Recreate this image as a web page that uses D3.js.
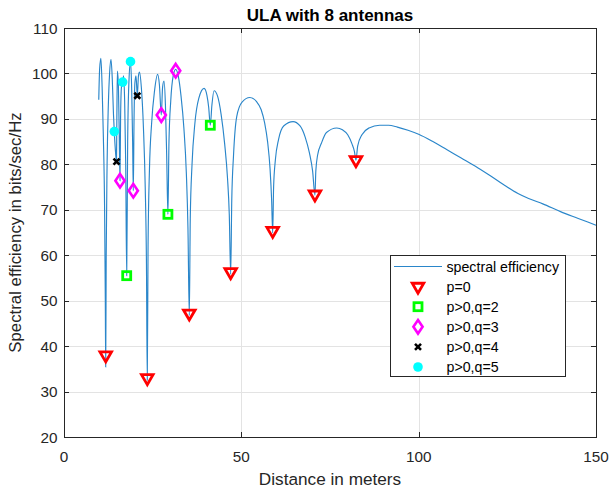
<!DOCTYPE html>
<html>
<head>
<meta charset="utf-8">
<script src="https://cdn.jsdelivr.net/npm/d3@7"></script>
<style>
  html, body { margin: 0; padding: 0; background: #fff; }
  svg { display: block; font-family: "Liberation Sans", Arial, sans-serif; }
</style>
</head>
<body>
<div id="chart"></div>
<script>
// --- Data (distance m, spectral efficiency bits/sec/Hz) ---
const curve = [
  [9.8, 94.2], [10.05, 101], [10.4, 103.3], [10.75, 97], [11.1, 86], [11.45, 70], [11.65, 50], [11.76, 35.4],
  [11.9, 60], [12.15, 80], [12.5, 93], [12.85, 100], [13.25, 103.1], [13.6, 99], [13.95, 91], [14.18, 87.2],
  [14.5, 83], [14.8, 80.6], [14.9, 90], [15.05, 100.5], [15.3, 98], [15.55, 88], [15.79, 76.4], [15.95, 90],
  [16.2, 97], [16.55, 98.1], [16.8, 99.5], [17.1, 94], [17.4, 80], [17.68, 55.5], [17.95, 85], [18.3, 98],
  [18.75, 102.6], [19.1, 96], [19.35, 85], [19.54, 74.2], [19.75, 90], [20.0, 98], [20.3, 99.5], [20.67, 95.1],
  [21.0, 99.5], [21.3, 100.3], [21.8, 97], [22.4, 88], [22.9, 75], [23.25, 58], [23.48, 32.5],
  [23.7, 62], [24.1, 79], [24.7, 89], [25.5, 96], [26.4, 99.8], [26.9, 97.5], [27.43, 90.85], [27.8, 97],
  [28.2, 98.3], [28.6, 93], [28.95, 82], [29.3, 69.0], [29.6, 85], [30.1, 94], [30.8, 99.5], [31.49, 100.9],
  [32.2, 99.5], [33.0, 95], [33.8, 88], [34.5, 78], [34.95, 66], [35.33, 46.7],
  [35.6, 68], [36.1, 80], [36.9, 89], [38.0, 94.5], [39.5, 96.7], [40.3, 95.2], [40.8, 92.5], [41.25, 88.6],
  [41.7, 93], [42.3, 96.2], [43.3, 95], [44.3, 91], [45.3, 84.5], [46.1, 77], [46.6, 69], [47.0, 55.8],
  [47.3, 72], [47.8, 82], [48.7, 90.5], [50.2, 93.7], [52.4, 94.7], [54.3, 93.8], [55.6, 92], [56.6, 89],
  [57.4, 85], [58.1, 79], [58.55, 72], [58.84, 64.9],
  [59.1, 75], [59.6, 81], [60.5, 85.5], [62.0, 88.5], [64.6, 89.4], [66.5, 88.5], [68.0, 86], [69.2, 82.5],
  [70.1, 78.5], [70.76, 73.2],
  [71.0, 78.5], [71.5, 82], [72.6, 84.7], [74.0, 87], [76.9, 88], [78.5, 87.6], [80.0, 86.5], [81.2, 84.5],
  [81.9, 82.8], [82.32, 80.9],
  [82.8, 84], [84.0, 86.5], [86.0, 88], [89.0, 88.6], [91.5, 88.6], [94.0, 88.2], [97.0, 87.5], [100.0, 86.6],
  [104.0, 85], [108.0, 83.2], [112.0, 81.4], [116.0, 79.6], [120.0, 77.6], [124.0, 75.5], [128.0, 73.6],
  [131.0, 72.5], [135.0, 71.3], [140.0, 69.6], [145.0, 68.1], [150.0, 66.6]
];
const p0 = [[11.76, 38.0], [23.48, 33.0], [35.33, 47.2], [47.0, 56.3], [58.84, 65.4], [70.76, 73.4], [82.32, 80.95]];
const q2 = [[17.68, 55.5], [29.3, 69.0], [41.25, 88.6]];
const q3 = [[15.79, 76.4], [19.54, 74.2], [27.43, 90.85], [31.49, 100.6]];
const q4 = [[14.8, 80.6], [20.67, 95.1]];
const q5 = [[14.18, 87.2], [16.55, 98.1], [18.75, 102.6]];

const xTicks = [0, 50, 100, 150];
const yTicks = [20, 30, 40, 50, 60, 70, 80, 90, 100, 110];
const legendLabels = ["spectral efficiency", "p=0", "p>0,q=2", "p>0,q=3", "p>0,q=4", "p>0,q=5"];

const W = 611, H = 493;
const m = { left: 64, right: 596, top: 28, bottom: 437 };
const axisColor = "#262626";
const lineColor = "#2a86ca";

const svg = d3.select("#chart").append("svg").attr("width", W).attr("height", H);

const x = d3.scaleLinear().domain([0, 150]).range([m.left, m.right]);
const y = d3.scaleLinear().domain([20, 110]).range([m.bottom, m.top]);

// grid
const grid = svg.append("g").attr("stroke", "#e3e3e3").attr("stroke-width", 1);
grid.selectAll(".gx").data(xTicks.slice(1, -1)).join("line")
  .attr("x1", d => Math.round(x(d)) + 0.5).attr("x2", d => Math.round(x(d)) + 0.5)
  .attr("y1", m.top).attr("y2", m.bottom);
grid.selectAll(".gy").data(yTicks.slice(1, -1)).join("line")
  .attr("y1", d => Math.round(y(d)) + 0.5).attr("y2", d => Math.round(y(d)) + 0.5)
  .attr("x1", m.left).attr("x2", m.right);

// axes with inward ticks on all four sides
const tick = 5;
const axes = svg.append("g").attr("stroke", axisColor).attr("stroke-width", 1);
axes.append("rect").attr("x", m.left + 0.5).attr("y", m.top + 0.5)
  .attr("width", m.right - m.left).attr("height", m.bottom - m.top).attr("fill", "none");
xTicks.forEach(t => {
  const px = Math.round(x(t)) + 0.5;
  axes.append("line").attr("x1", px).attr("x2", px).attr("y1", m.bottom).attr("y2", m.bottom - tick);
  axes.append("line").attr("x1", px).attr("x2", px).attr("y1", m.top).attr("y2", m.top + tick);
});
yTicks.forEach(t => {
  const py = Math.round(y(t)) + 0.5;
  axes.append("line").attr("y1", py).attr("y2", py).attr("x1", m.left).attr("x2", m.left + tick);
  axes.append("line").attr("y1", py).attr("y2", py).attr("x1", m.right).attr("x2", m.right - tick);
});

// tick labels
svg.append("g").selectAll("text").data(xTicks).join("text")
  .attr("x", d => x(d)).attr("y", 461.5).attr("text-anchor", "middle")
  .attr("font-size", 15.3).attr("fill", axisColor).text(d => d);
svg.append("g").selectAll("text").data(yTicks).join("text")
  .attr("x", 57.5).attr("y", d => y(d)).attr("dy", "0.36em").attr("text-anchor", "end")
  .attr("font-size", 15.3).attr("fill", axisColor).text(d => d);

// titles
svg.append("text").attr("x", (m.left + m.right) / 2).attr("y", 20.7).attr("text-anchor", "middle")
  .attr("font-size", 17).attr("font-weight", "bold").attr("fill", "#000").text("ULA with 8 antennas");
svg.append("text").attr("x", (m.left + m.right) / 2).attr("y", 485).attr("text-anchor", "middle")
  .attr("font-size", 17.2).attr("fill", axisColor).text("Distance in meters");
svg.append("text").attr("transform", `translate(21,${(m.top + m.bottom) / 2}) rotate(-90)`)
  .attr("text-anchor", "middle").attr("font-size", 16.8).attr("fill", axisColor)
  .text("Spectral efficiency in bits/sec/Hz");

// curve
const line = d3.line().x(d => x(d[0])).y(d => y(d[1])).curve(d3.curveMonotoneX);
svg.append("path").datum(curve).attr("d", line)
  .attr("fill", "none").attr("stroke", lineColor).attr("stroke-width", 1.15);

// marker shapes
const tri = d3.symbol().type(d3.symbolTriangle).size(58)();
function appendMarker(sel, kind) {
  if (kind === "p0") {
    sel.append("path").attr("d", tri).attr("transform", "rotate(180)")
      .attr("fill", "none").attr("stroke", "#ff0000").attr("stroke-width", 2.8);
  } else if (kind === "q2") {
    sel.append("rect").attr("x", -4).attr("y", -4).attr("width", 8).attr("height", 8)
      .attr("fill", "none").attr("stroke", "#00ff00").attr("stroke-width", 2.8);
  } else if (kind === "q3") {
    sel.append("path").attr("d", "M0,-6.8L4.6,0L0,6.8L-4.6,0Z")
      .attr("fill", "none").attr("stroke", "#ff00ff").attr("stroke-width", 2.6);
  } else if (kind === "q4") {
    sel.append("path").attr("d", "M-3,-3L3,3M-3,3L3,-3")
      .attr("stroke", "#000").attr("stroke-width", 2.6);
  } else if (kind === "q5") {
    sel.append("circle").attr("r", 4.8).attr("fill", "#00ffff");
  }
}
const drawMarkers = (g, data, kind) => {
  const sel = g.selectAll("g").data(data).join("g")
    .attr("transform", d => `translate(${x(d[0])},${y(d[1])})`);
  appendMarker(sel, kind);
};
const mk = svg.append("g");
drawMarkers(mk.append("g"), p0, "p0");
drawMarkers(mk.append("g"), q2, "q2");
drawMarkers(mk.append("g"), q3, "q3");
drawMarkers(mk.append("g"), q4, "q4");
drawMarkers(mk.append("g"), q5, "q5");

// legend
const lg = svg.append("g");
lg.append("rect").attr("x", 390.5).attr("y", 255.5).attr("width", 175).attr("height", 121)
  .attr("fill", "#fff").attr("stroke", axisColor).attr("stroke-width", 1);
const kinds = ["line", "p0", "q2", "q3", "q4", "q5"];
const rowY = i => 266.5 + i * 20.1;
legendLabels.forEach((label, i) => {
  const row = lg.append("g").attr("transform", `translate(0,${rowY(i)})`);
  if (kinds[i] === "line") {
    row.append("line").attr("x1", 394).attr("x2", 442).attr("stroke", lineColor).attr("stroke-width", 1.15);
  } else {
    appendMarker(row.append("g").attr("transform", "translate(418,0)"), kinds[i]);
  }
  row.append("text").attr("x", 446.5).attr("dy", "0.36em").attr("font-size", 14.2)
    .attr("fill", "#000").text(label);
});
</script>
</body>
</html>
